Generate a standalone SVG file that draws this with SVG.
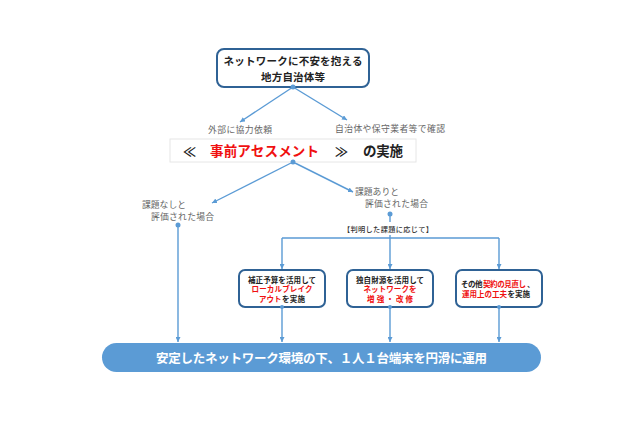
<svg xmlns="http://www.w3.org/2000/svg" width="640" height="426" viewBox="0 0 640 426">
<style>
text{font-family:"Noto Sans CJK JP","Liberation Sans",sans-serif;text-anchor:middle;dominant-baseline:central}
.b{fill:#fff;stroke:#2f6295;stroke-width:2}
.t{font-size:10.5px;font-weight:700;fill:#222}
.s{font-size:7.5px;font-weight:700;fill:#222}
.st{text-anchor:start}
.g{font-size:8.8px;fill:#666}
.r{fill:#f01010}
.c{stroke:#5b9bd5;stroke-width:1.4;fill:none}
.d{fill:#5b9bd5}
</style>
<defs><marker id="a" markerWidth="5" markerHeight="5" refX="5" refY="2.5" orient="auto" markerUnits="userSpaceOnUse"><path d="M0 0L5 2.5L0 5z" fill="#5b9bd5"/></marker></defs>
<rect width="640" height="426" fill="#fff"/>
<g id="connectors">
<path class="c" marker-end="url(#a)" d="M293 87L240 122"/>
<path class="c" marker-end="url(#a)" d="M293 87L347 120"/>
<path class="c" marker-end="url(#a)" d="M293 162L212 203"/>
<path class="c" marker-end="url(#a)" d="M293 162L353 192"/>
<path class="c" d="M390 213V222M390 235V238M282 238H499"/>
<path class="c" marker-end="url(#a)" d="M282 238V269"/>
<path class="c" marker-end="url(#a)" d="M390 238V269"/>
<path class="c" marker-end="url(#a)" d="M499 238V269"/>
<path class="c" marker-end="url(#a)" d="M178 225V342"/>
<path class="c" marker-end="url(#a)" d="M282 307V342"/>
<path class="c" marker-end="url(#a)" d="M390 307V342"/>
<path class="c" marker-end="url(#a)" d="M499 307V342"/>
<circle class="d" cx="390" cy="214" r="2.5"/><circle class="d" cx="178" cy="225" r="2.5"/>
</g>
<g id="top"><rect class="b" x="217" y="49" width="152" height="38" rx="7"/>
<text class="t" x="293" y="60" textLength="139">ネットワークに不安を抱える</text><text class="t" x="293" y="76" textLength="64">地方自治体等</text>
<circle class="d" cx="293" cy="87" r="2.5"/></g>
<g id="label-out"><text class="g" x="240" y="129.500" textLength="64">外部に協力依頼</text></g>
<g id="label-in"><text class="g" x="390" y="128.500" textLength="110">自治体や保守業者等で確認</text></g>
<g id="assess"><rect x="170" y="139" width="246" height="23" fill="#fff" stroke="#e6e6e6"/>
<text x="189.500" y="150" font-size="13" font-weight="700" fill="#222">≪</text>
<text class="r" x="264.500" y="150" font-size="13.500" font-weight="700" textLength="109">事前アセスメント</text>
<text x="341.500" y="150" font-size="13" font-weight="700" fill="#222">≫</text>
<text x="383" y="150" font-size="13.500" font-weight="700" fill="#222" textLength="40">の実施</text>
<circle class="d" cx="293" cy="162" r="2.500"/></g>
<g id="none"><text class="g" x="164" y="204.500" textLength="44">課題なしと</text><text class="g" x="182.500" y="216.500" textLength="63">評価された場合</text></g>
<g id="some"><text class="g" x="377" y="191.500" textLength="44">課題ありと</text><text class="g" x="396.500" y="203" textLength="63">評価された場合</text></g>
<g id="note"><text x="388" y="228.500" font-size="7.200" font-weight="500" fill="#333" textLength="90">【判明した課題に応じて】</text></g>
<g id="box1"><rect class="b" x="239" y="270" width="86" height="37" rx="6"/>
<text class="s" x="282" y="279" textLength="68">補正予算を活用して</text>
<text class="s r" x="282" y="288.500" textLength="61">ローカルブレイク</text>
<text class="s st r" x="259" y="298" textLength="22.500">アウト</text>
<text class="s st" x="282" y="298" textLength="23">を実施</text>
<circle class="d" cx="282" cy="307" r="2"/></g>
<g id="box2"><rect class="b" x="347" y="270" width="86" height="37" rx="6"/>
<text class="s" x="390" y="279" textLength="68">独自財源を活用して</text>
<text class="s r" x="390" y="288.500" textLength="53">ネットワークを</text>
<text class="s r" x="390" y="298" textLength="46">増強・改修</text>
<circle class="d" cx="390" cy="307" r="2"/></g>
<g id="box3"><rect class="b" x="456" y="270" width="86" height="37" rx="6"/>
<text class="s st" x="461" y="283" textLength="21.500">その他</text>
<text class="s st r" x="483" y="283" textLength="43">契約の見直し</text>
<text class="s st" x="527" y="283">、</text>
<text class="s st r" x="462" y="293" textLength="45">運用上の工夫</text>
<text class="s st" x="507.500" y="293" textLength="22.500">を実施</text>
<circle class="d" cx="499" cy="307" r="2"/></g>
<g id="result"><rect x="102" y="343" width="439" height="29" rx="14.500" fill="#5b9bd5"/>
<text x="321.500" y="357" font-size="12.500" font-weight="700" fill="#fff" textLength="331">安定したネットワーク環境の下、１人１台端末を円滑に運用</text></g>
</svg>
